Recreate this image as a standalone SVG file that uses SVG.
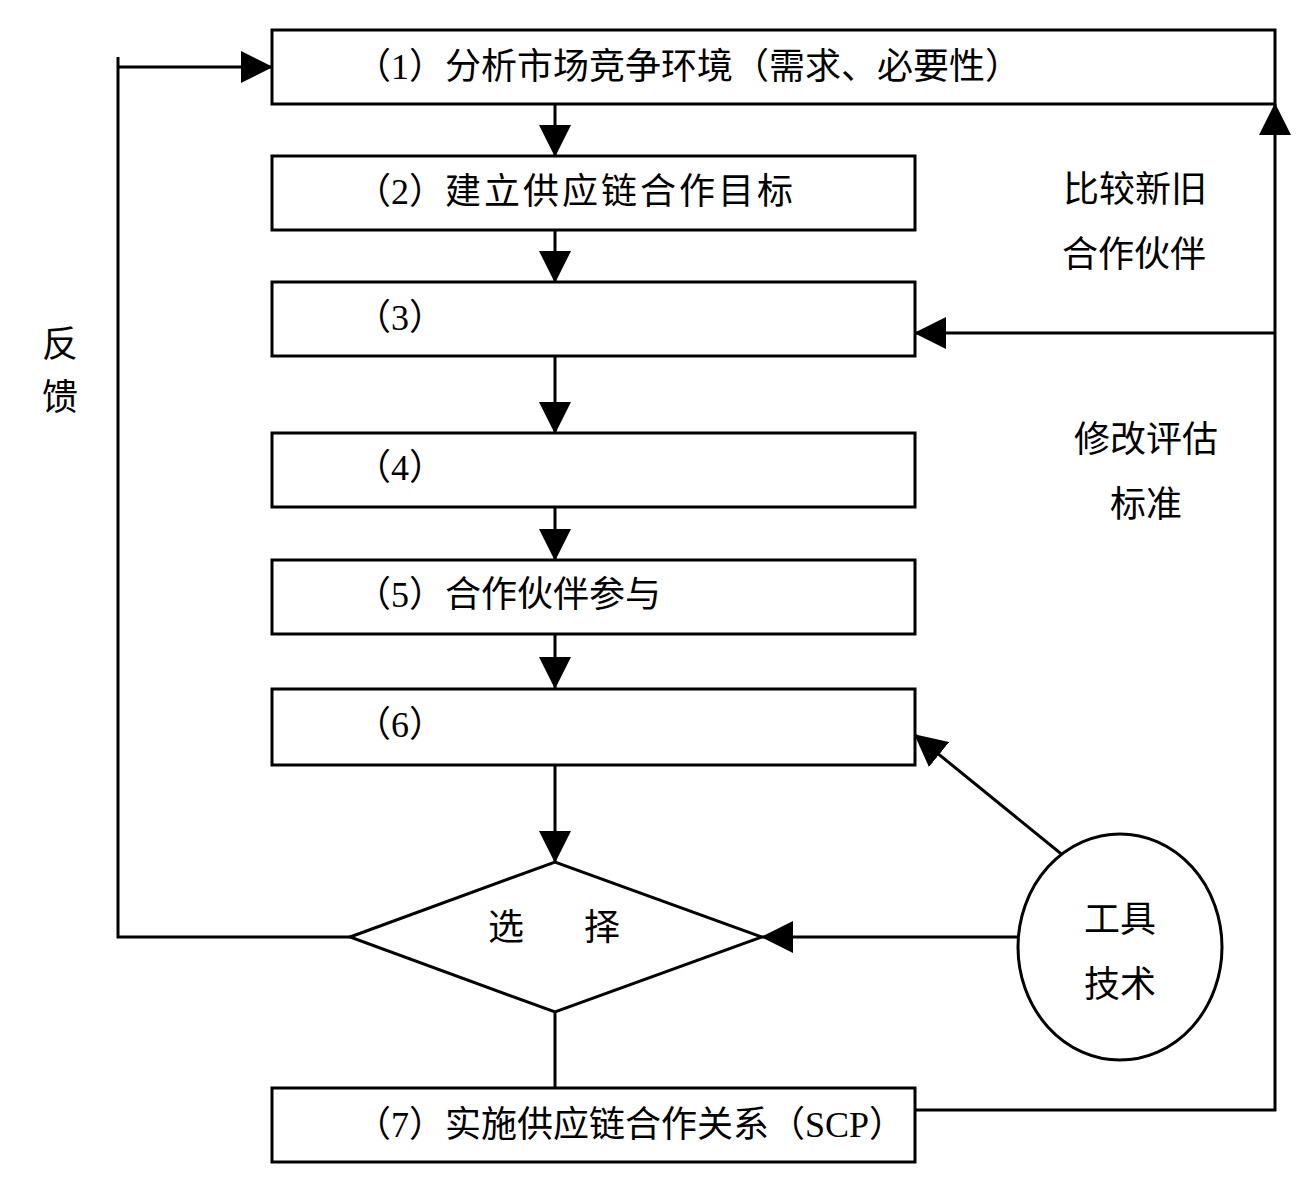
<svg xmlns="http://www.w3.org/2000/svg" width="1298" height="1178" viewBox="0 0 1298 1178">
<style>
.box{fill:#fff;stroke:#000;stroke-width:3}
.ln{fill:none;stroke:#000;stroke-width:3}
.arr{marker-end:url(#ah)}
text{font-family:"Liberation Serif","Noto Sans CJK SC",serif;font-size:36px;fill:#000;dominant-baseline:central}
.c{text-anchor:middle}
</style>
<defs>
<marker id="ah" markerUnits="userSpaceOnUse" markerWidth="32" markerHeight="32" refX="31" refY="16" orient="auto" viewBox="0 0 32 32">
<path d="M0,0 L32,16 L0,32 z" fill="#000"/>
</marker>
</defs>
<rect width="1298" height="1178" fill="#fff"/>
<g id="connectors">
<line class="ln arr" x1="555" y1="104" x2="555" y2="156"/>
<line class="ln arr" x1="555" y1="230" x2="555" y2="282"/>
<line class="ln arr" x1="555" y1="356" x2="555" y2="433"/>
<line class="ln arr" x1="555" y1="507" x2="555" y2="560"/>
<line class="ln arr" x1="555" y1="634" x2="555" y2="688"/>
<line class="ln arr" x1="555" y1="763" x2="555" y2="862"/>
<line class="ln" x1="555" y1="1012" x2="555" y2="1088"/>
<polyline class="ln" points="350,937 118,937 118,57"/>
<line class="ln arr" x1="118" y1="67" x2="272" y2="67"/>
<polyline class="ln arr" points="915,1110 1275,1110 1275,104"/>
<line class="ln arr" x1="1275" y1="333" x2="915" y2="333"/>
<line class="ln arr" x1="1018" y1="937" x2="762" y2="937"/>
<line class="ln arr" x1="1070" y1="861" x2="915" y2="735"/>
</g>
<g id="n1"><rect class="box" x="272" y="30" width="1003" height="74"/><text x="355" y="67">（1）分析市场竞争环境（需求、必要性）</text></g>
<g id="n2"><rect class="box" x="272" y="156" width="643" height="74"/><text x="355" y="192">（2）<tspan x="445" letter-spacing="3">建立供应链合作目标</tspan></text></g>
<g id="n3"><rect class="box" x="272" y="282" width="643" height="74"/><text x="355" y="318">（3）</text></g>
<g id="n4"><rect class="box" x="272" y="433" width="643" height="74"/><text x="355" y="468">（4）</text></g>
<g id="n5"><rect class="box" x="272" y="560" width="643" height="74"/><text x="355" y="595">（5）合作伙伴参与</text></g>
<g id="n6"><rect class="box" x="272" y="689" width="643" height="76"/><text x="355" y="725">（6）</text></g>
<g id="n7"><rect class="box" x="272" y="1088" width="643" height="74"/><text x="355" y="1125">（7）实施供应链合作关系（SCP）</text></g>
<g id="select"><polygon class="box" points="350,937 555,862 762,937 555,1012"/><text class="c" y="928"><tspan x="506">选</tspan><tspan x="602">择</tspan></text></g>
<g id="tools"><ellipse class="box" cx="1120" cy="947" rx="102" ry="113"/><text class="c" x="1120" y="920">工具</text><text class="c" x="1120" y="985">技术</text></g>
<g id="lbl-compare"><text class="c" x="1135" y="190">比较新旧</text><text class="c" x="1134" y="255">合作伙伴</text></g>
<g id="lbl-modify"><text class="c" x="1146" y="440">修改评估</text><text class="c" x="1146" y="505">标准</text></g>
<g id="lbl-feedback"><text class="c" x="60" y="345">反</text><text class="c" x="60" y="398">馈</text></g>
</svg>
